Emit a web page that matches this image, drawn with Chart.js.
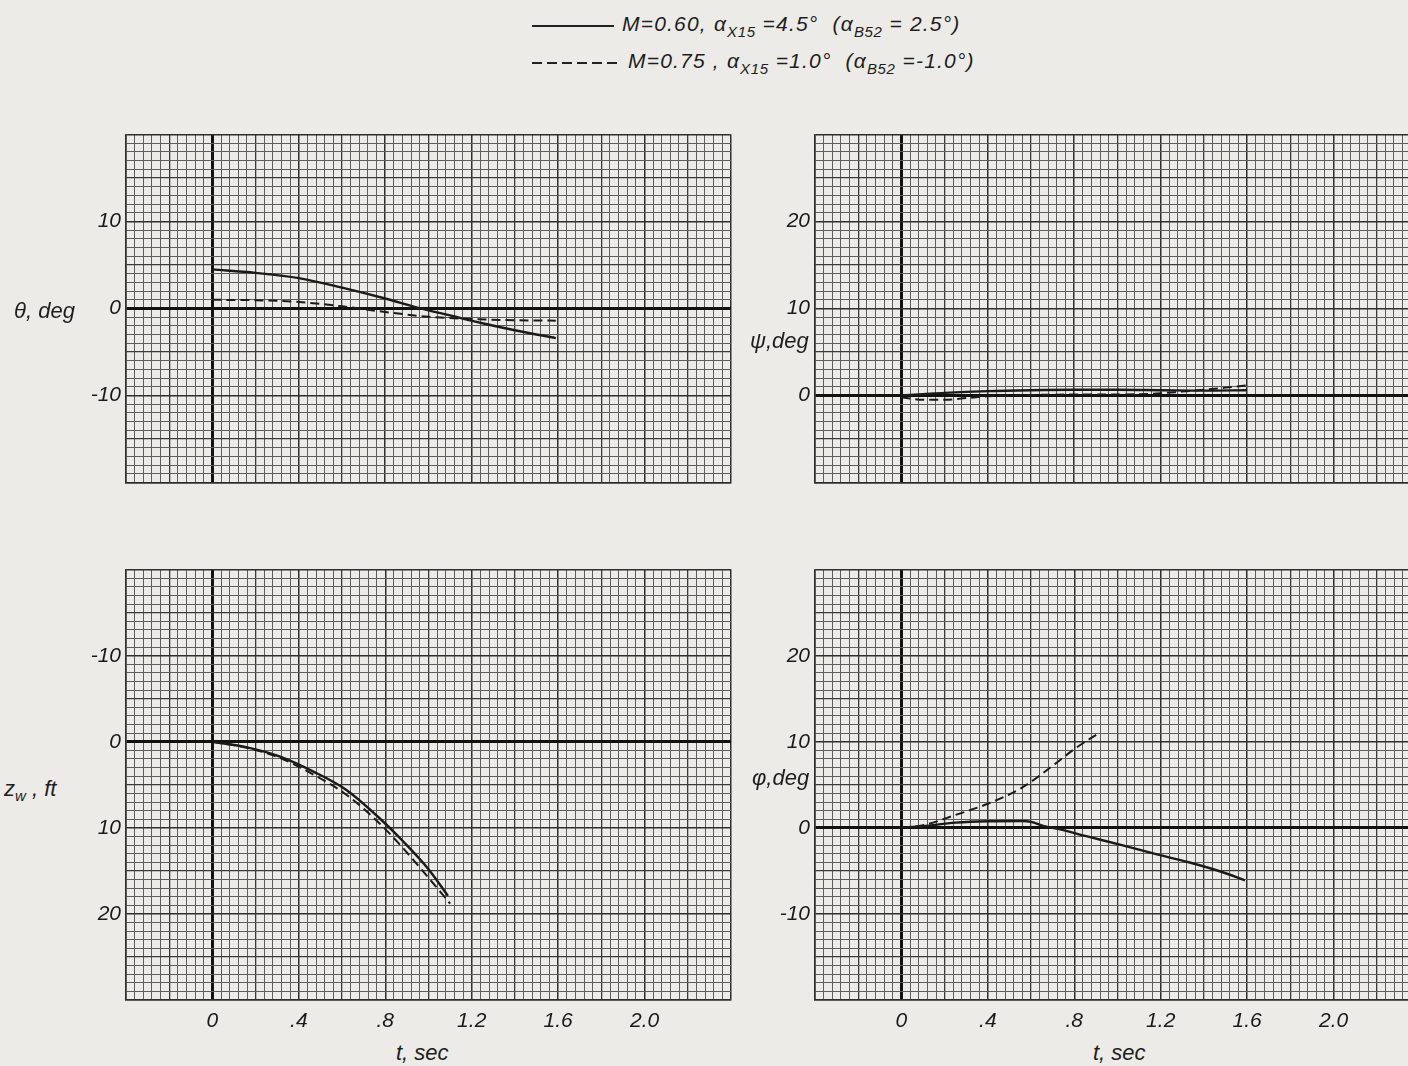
<!DOCTYPE html>
<html>
<head>
<meta charset="utf-8">
<script src="https://cdn.jsdelivr.net/npm/chart.js@4.4.1/dist/chart.umd.min.js"></script>
<style>
    html, body { margin: 0; padding: 0; width: 1408px; height: 1066px; overflow: hidden; background: #ecebe7; }
    body { position: relative; font-family: 'Liberation Sans', Arial, sans-serif; font-style: italic; color: #1e1e1e; }
    .panel { position: absolute; }
    .lbl { position: absolute; font-size: 22px; line-height: 1; white-space: nowrap; transform: translateY(-50%); }
    .lbl sub { font-size: 15px; vertical-align: -5px; }
    .legend { position: absolute; left: 532px; font-size: 21px; letter-spacing: 1.2px; white-space: nowrap; display: flex; align-items: center; transform: translateY(-50%); }
    .legend sub { font-size: 15px; vertical-align: -6px; letter-spacing: 0.6px; }
    .legend svg { margin-right: 8px; }
</style>
</head>
<body>

<div class="legend" style="top:26px;">
    <svg width="82" height="6"><line x1="0" y1="3" x2="82" y2="3" stroke="#222" stroke-width="1.8"/></svg>
    <span>M=0.60, α<sub>X15</sub> =4.5°&nbsp; (α<sub>B52</sub> = 2.5°)</span>
</div>
<div class="legend" style="top:63px;">
    <svg width="88" height="6"><line x1="0" y1="3" x2="88" y2="3" stroke="#222" stroke-width="1.8" stroke-dasharray="10,5"/></svg>
    <span>M=0.75 , α<sub>X15</sub> =1.0°&nbsp; (α<sub>B52</sub> =-1.0°)</span>
</div>

<div class="panel" id="p1"><canvas id="thetaChart"></canvas></div>
<div class="panel" id="p2"><canvas id="psiChart"></canvas></div>
<div class="panel" id="p3"><canvas id="zwChart"></canvas></div>
<div class="panel" id="p4"><canvas id="phiChart"></canvas></div>

<div class="lbl" style="left:14px; top:311px;">θ, deg</div>
<div class="lbl" style="left:750px; top:341px;">ψ,deg</div>
<div class="lbl" style="left:4px; top:790px;">z<sub>w</sub> , ft</div>
<div class="lbl" style="left:752px; top:778px;">φ,deg</div>
<div class="lbl" style="left:396px; top:1053px;">t, sec</div>
<div class="lbl" style="left:1093px; top:1053px;">t, sec</div>

<script>
// time axis tick labels (bottom panels only)
const xTickValues = [0, 0.4, 0.8, 1.2, 1.6, 2.0];
const xTickLabels = ['0', '.4', '.8', '1.2', '1.6', '2.0'];

// theta, deg
const thetaTime060 = [0, 0.2, 0.4, 0.6, 0.8, 0.95, 1.1, 1.25, 1.4, 1.59];
const theta060 = [4.5, 4.1, 3.5, 2.4, 1.15, 0.1, -0.8, -1.7, -2.5, -3.4];
const thetaTime075 = [0, 0.2, 0.4, 0.6, 0.8, 1.0, 1.2, 1.4, 1.59];
const theta075 = [1.0, 0.95, 0.75, 0.25, -0.4, -0.95, -1.2, -1.35, -1.4];

// psi, deg
const psiTime060 = [0, 0.1, 0.2, 0.4, 0.6, 0.8, 1.0, 1.2, 1.4, 1.6];
const psi060 = [0, 0.15, 0.3, 0.5, 0.6, 0.65, 0.65, 0.6, 0.55, 0.6];
const psiTime075 = [0, 0.1, 0.2, 0.3, 0.4, 0.6, 0.8, 1.0, 1.2, 1.3, 1.4, 1.5, 1.6];
const psi075 = [-0.2, -0.5, -0.5, -0.3, -0.1, 0.05, 0.1, 0.1, 0.25, 0.45, 0.65, 0.9, 1.15];

// z_w, ft (positive down)
const zwTime060 = [0, 0.16, 0.31, 0.47, 0.62, 0.77, 0.88, 1.0, 1.09];
const zw060 = [0, 0.65, 1.7, 3.5, 5.6, 8.8, 11.5, 14.8, 17.9];
const zwTime075 = [0, 0.16, 0.31, 0.47, 0.62, 0.77, 0.88, 1.0, 1.1];
const zw075 = [0, 0.7, 1.85, 3.85, 6.15, 9.4, 12.3, 15.8, 18.8];

// phi, deg
const phiTime060 = [0, 0.1, 0.25, 0.4, 0.56, 0.6, 0.66, 0.73, 0.86, 1.02, 1.17, 1.33, 1.48, 1.59];
const phi060 = [0, 0.2, 0.6, 0.77, 0.8, 0.7, 0.2, -0.15, -1.0, -2.0, -3.0, -4.0, -5.1, -6.1];
const phiTime075 = [0, 0.1, 0.25, 0.4, 0.56, 0.71, 0.8, 0.91];
const phi075 = [0, 0.3, 1.5, 2.8, 4.7, 7.4, 9.15, 10.95];

const INK = '#1a1a1a';
const TICK_FONT = { family: "'Liberation Sans', Arial, sans-serif", size: 21, style: 'italic' };

function points(ts, vs) {
    return ts.map((t, i) => ({ x: t, y: vs[i] }));
}

function gridColor(value, unit) {
    const k = Math.round(value / unit);
    if (k === 0) return '#111';
    if (k % 10 === 0) return '#2e2e2e';
    if (k % 5 === 0) return '#3a3a3a';
    return '#5e5e5e';
}

function gridWidth(value, unit) {
    const k = Math.round(value / unit);
    if (k === 0) return 3;
    if (k % 10 === 0) return 1.5;
    if (k % 5 === 0) return 1.3;
    return 1;
}

function makePanel(canvasId, box, yMin, yMax, reverse, showX, series) {
    const canvas = document.getElementById(canvasId);
    canvas.width = box.w + 100;
    canvas.height = box.h + 60;
    const chart = new Chart(canvas.getContext('2d'), {
        type: 'scatter',
        data: {
            datasets: series.map(s => ({
                data: s.data,
                showLine: true,
                borderColor: INK,
                borderWidth: s.dashed ? 2 : 2.4,
                borderDash: s.dashed ? [9, 5] : [],
                pointRadius: 0,
                cubicInterpolationMode: 'monotone',
                fill: false
            }))
        },
        options: {
            responsive: false,
            maintainAspectRatio: false,
            animation: false,
            layout: { padding: 0 },
            plugins: { legend: { display: false }, tooltip: { enabled: false } },
            scales: {
                x: {
                    type: 'linear',
                    min: -0.4,
                    max: 2.4,
                    border: { display: true, color: '#2e2e2e', width: 1.5 },
                    grid: {
                        drawTicks: false,
                        color: ctx => gridColor(ctx.tick.value, 0.04),
                        lineWidth: ctx => gridWidth(ctx.tick.value, 0.04)
                    },
                    ticks: {
                        display: showX,
                        stepSize: 0.04,
                        autoSkip: false,
                        maxRotation: 0,
                        padding: 9,
                        color: INK,
                        font: TICK_FONT,
                        callback: value => {
                            const i = xTickValues.findIndex(v => Math.abs(v - value) < 1e-6);
                            return i >= 0 ? xTickLabels[i] : '';
                        }
                    },
                    afterFit: scale => { scale.height = showX ? 40 : 2; }
                },
                y: {
                    type: 'linear',
                    min: yMin,
                    max: yMax,
                    reverse: reverse,
                    border: { display: true, color: '#2e2e2e', width: 1.5 },
                    grid: {
                        drawTicks: false,
                        color: ctx => gridColor(ctx.tick.value, 1),
                        lineWidth: ctx => gridWidth(ctx.tick.value, 1)
                    },
                    ticks: {
                        stepSize: 1,
                        autoSkip: false,
                        padding: 5,
                        color: INK,
                        font: TICK_FONT,
                        callback: value => {
                            const k = Math.round(value);
                            if (k % 10 !== 0 || k === yMin || k === yMax) return '';
                            return String(k);
                        }
                    },
                    afterFit: scale => { scale.width = 60; }
                }
            }
        }
    });

    // move and size the canvas so the plot area lands on the box
    for (let pass = 0; pass < 2; pass++) {
        const a = chart.chartArea;
        const l = a.left, t = a.top;
        const r = chart.width - a.right, b = chart.height - a.bottom;
        chart.resize(Math.round(box.w + l + r), Math.round(box.h + t + b));
        canvas.parentNode.style.left = (box.x - l) + 'px';
        canvas.parentNode.style.top = (box.y - t) + 'px';
    }
    return chart;
}

makePanel('thetaChart', { x: 126, y: 135, w: 605, h: 348 }, -20, 20, false, false, [
    { data: points(thetaTime060, theta060), dashed: false },
    { data: points(thetaTime075, theta075), dashed: true }
]);

makePanel('psiChart', { x: 815, y: 135, w: 605, h: 348 }, -10, 30, false, false, [
    { data: points(psiTime060, psi060), dashed: false },
    { data: points(psiTime075, psi075), dashed: true }
]);

makePanel('zwChart', { x: 126, y: 570, w: 605, h: 430 }, -20, 30, true, true, [
    { data: points(zwTime060, zw060), dashed: false },
    { data: points(zwTime075, zw075), dashed: true }
]);

makePanel('phiChart', { x: 815, y: 570, w: 605, h: 430 }, -20, 30, false, true, [
    { data: points(phiTime060, phi060), dashed: false },
    { data: points(phiTime075, phi075), dashed: true }
]);
</script>
</body>
</html>
